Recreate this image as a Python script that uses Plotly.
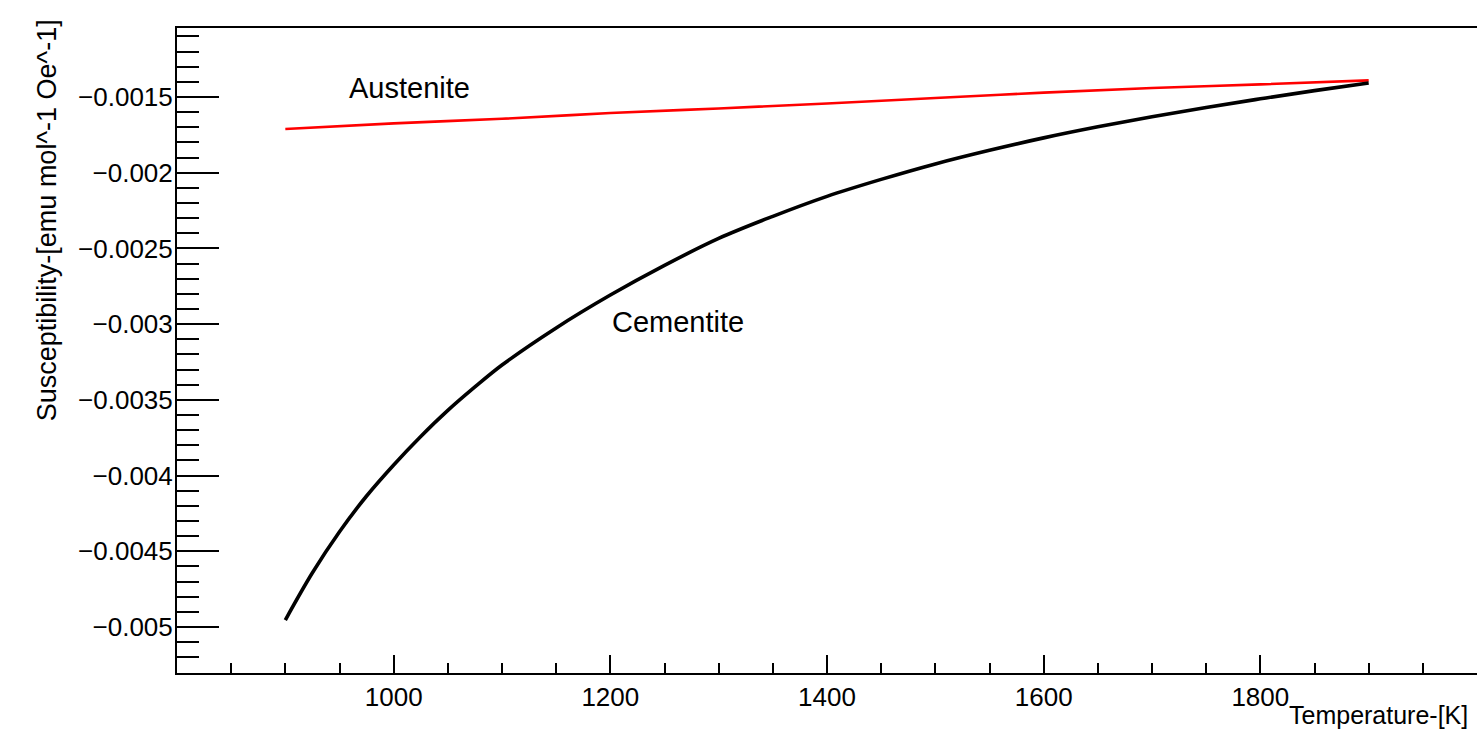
import plotly.graph_objects as go

# ---- data ----
temperature_cementite = [900, 925, 950, 975, 1000, 1025, 1050, 1075, 1100, 1150, 1200,
                         1250, 1300, 1350, 1400, 1450, 1500, 1550, 1600, 1650, 1700,
                         1750, 1800, 1850, 1900]
chi_cementite = [-0.004954, -0.004642, -0.004371, -0.004135, -0.00393, -0.003742,
                 -0.00357, -0.003415, -0.00327, -0.003025, -0.002808, -0.002612,
                 -0.002434, -0.002288, -0.002156, -0.002044, -0.001942, -0.001852,
                 -0.00177, -0.001697, -0.00163, -0.001569, -0.001512, -0.001458,
                 -0.001408]

temperature_austenite = [900, 1000, 1100, 1200, 1300, 1400, 1500, 1600, 1700, 1800, 1900]
chi_austenite = [-0.001711, -0.001674, -0.001644, -0.001606, -0.001576, -0.001543,
                 -0.001507, -0.001471, -0.001441, -0.001417, -0.00139]

x_tick_values = [1000, 1200, 1400, 1600, 1800]
x_tick_labels = ["1000", "1200", "1400", "1600", "1800"]
y_tick_values = [-0.005, -0.0045, -0.004, -0.0035, -0.003, -0.0025, -0.002, -0.0015]
y_tick_labels = ["\u22120.005", "\u22120.0045", "\u22120.004", "\u22120.0035",
                 "\u22120.003", "\u22120.0025", "\u22120.002", "\u22120.0015"]

FONT = "Liberation Sans, Arial, sans-serif"

fig = go.Figure()
fig.add_trace(go.Scatter(x=temperature_austenite, y=chi_austenite, mode="lines",
                         line=dict(color="#ff0000", width=2.6, shape="spline"),
                         showlegend=False, hoverinfo="x+y"))
fig.add_trace(go.Scatter(x=temperature_cementite, y=chi_cementite, mode="lines",
                         line=dict(color="#000000", width=3.6, shape="spline"),
                         showlegend=False, hoverinfo="x+y"))

fig.add_annotation(x=1015, y=-0.00144, xref="x", yref="y", text="Austenite",
                   showarrow=False, font=dict(family=FONT, size=29, color="#000000"),
                   xanchor="center", yanchor="middle")
fig.add_annotation(x=1262, y=-0.002986, xref="x", yref="y", text="Cementite",
                   showarrow=False, font=dict(family=FONT, size=29, color="#000000"),
                   xanchor="center", yanchor="middle")

# axis titles (ROOT style: aligned to the axis ends)
fig.add_annotation(x=0.9946, y=-0.0651, xref="paper", yref="paper",
                   text="Temperature-[K]", showarrow=False,
                   font=dict(family=FONT, size=25, color="#000000"),
                   xanchor="right", yanchor="middle")
fig.add_annotation(x=-0.1, y=0.702, xref="paper", yref="paper",
                   text="Susceptibility-[emu mol^-1 Oe^-1]", showarrow=False,
                   textangle=-90,
                   font=dict(family=FONT, size=27, color="#000000"),
                   xanchor="center", yanchor="middle")

fig.update_layout(
    width=1477, height=733,
    margin=dict(l=177, r=0, t=28, b=60),
    paper_bgcolor="white", plot_bgcolor="white",
    font=dict(family=FONT, color="#000000"),
    xaxis=dict(
        range=[800, 2000],
        tickmode="array", tickvals=x_tick_values, ticktext=x_tick_labels,
        ticks="inside", ticklen=18, tickwidth=2, tickcolor="#000000",
        tickfont=dict(family=FONT, size=26, color="#000000"),
        minor=dict(tickmode="linear", tick0=0, dtick=50, ticks="inside",
                   ticklen=10, tickwidth=2, tickcolor="#000000", showgrid=False),
        showline=True, linewidth=2, linecolor="#000000", mirror=True,
        showgrid=False, zeroline=False,
    ),
    yaxis=dict(
        range=[-0.0053038, -0.0010444],
        tickmode="array", tickvals=y_tick_values, ticktext=y_tick_labels,
        ticks="inside", ticklen=42, tickwidth=2, tickcolor="#000000",
        tickfont=dict(family=FONT, size=26, color="#000000"),
        ticklabelstandoff=-3,
        minor=dict(tickmode="linear", tick0=0, dtick=0.0001, ticks="inside",
                   ticklen=22, tickwidth=2, tickcolor="#000000", showgrid=False),
        showline=True, linewidth=2, linecolor="#000000", mirror=False,
        showgrid=False, zeroline=False,
    ),
)

fig.write_html("out.html")
